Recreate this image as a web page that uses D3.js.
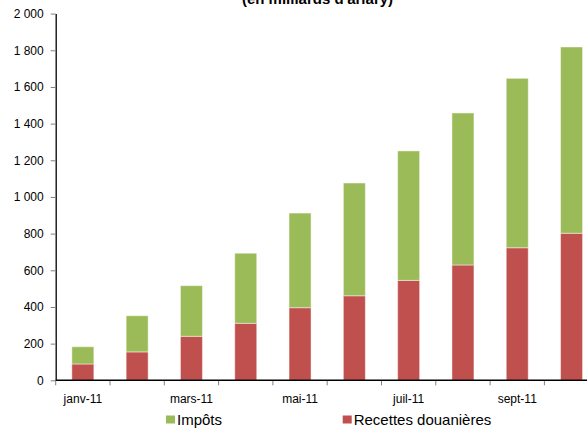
<!DOCTYPE html>
<html>
<head>
<meta charset="utf-8">
<script src="https://cdn.jsdelivr.net/npm/d3@7"></script>
<style>
  body { margin: 0; background: #fff; }
  svg { display: block; font-family: Arial, "Liberation Sans", sans-serif; }
</style>
</head>
<body>
<svg id="chart"></svg>
<script>
// cumulative receipts, billions of ariary
var months = ["janv-11", "févr-11", "mars-11", "avr-11", "mai-11", "juin-11", "juil-11", "août-11", "sept-11", "oct-11"];
var douane = [89, 155, 240, 311, 396, 461, 545, 629, 723, 802];
var impots = [94, 197, 276, 382, 516, 615, 706, 829, 924, 1016];
var yTicks = [0, 200, 400, 600, 800, 1000, 1200, 1400, 1600, 1800, 2000];
var shownMonths = ["janv-11", "mars-11", "mai-11", "juil-11", "sept-11"];

var chartW = 587, chartH = 428;
var plotLeft = 55.7, plotBottom = 380.3, plotTop = 13.6;

var svg = d3.select("#chart").attr("width", chartW).attr("height", chartH);

var fr = d3.formatLocale({decimal: ",", thousands: " ", grouping: [3], currency: ["", ""]});
var fmt = fr.format(",");

var x = d3.scaleBand()
    .domain(months)
    .range([plotLeft, plotLeft + 54.3 * months.length])
    .paddingInner(0.595)
    .paddingOuter(0.2975);

var y = d3.scaleLinear().domain([0, 2000]).range([plotBottom, plotTop]);

var rows = months.map(function (m, i) {
    return {month: m, douane: douane[i], impots: impots[i]};
});
var stacked = d3.stack().keys(["douane", "impots"])(rows);
var colors = {douane: "#C0504D", impots: "#9BBB59"};

svg.append("g").selectAll("g")
    .data(stacked)
    .enter().append("g")
    .attr("fill", function (s) { return colors[s.key]; })
    .selectAll("rect")
    .data(function (s) { return s; })
    .enter().append("rect")
    .attr("x", function (d) { return x(d.data.month); })
    .attr("y", function (d) { return y(d[1]); })
    .attr("width", x.bandwidth())
    .attr("height", function (d) { return y(d[0]) - y(d[1]); })
    .attr("stroke", "rgba(255,255,255,0.45)")
    .attr("stroke-width", 1);

// y axis
var yAxis = svg.append("g")
    .attr("transform", "translate(" + plotLeft + ",0)")
    .call(d3.axisLeft(y).tickValues(yTicks).tickFormat(fmt).tickSize(5).tickPadding(7).tickSizeOuter(0));
yAxis.select(".domain").attr("stroke", "#000").attr("stroke-width", 1.3);
yAxis.selectAll(".tick line").attr("stroke", "#808080");
yAxis.selectAll("text").attr("font-size", 12).attr("fill", "#000").attr("font-family", "Arial, 'Liberation Sans', sans-serif");

// x axis labels
var xAxis = svg.append("g")
    .attr("transform", "translate(0," + plotBottom + ")")
    .call(d3.axisBottom(x).tickValues(shownMonths).tickSize(0).tickPadding(14.5).tickSizeOuter(0));
xAxis.select(".domain").remove();
xAxis.selectAll("text").attr("font-size", 12).attr("fill", "#000").attr("font-family", "Arial, 'Liberation Sans', sans-serif");

// x tick marks between months
var gap = (x.step() - x.bandwidth()) / 2;
var bounds = months.map(function (m) { return x(m) - gap; });
svg.append("g").selectAll("line")
    .data(bounds)
    .enter().append("line")
    .attr("x1", function (d) { return d; })
    .attr("x2", function (d) { return d; })
    .attr("y1", plotBottom)
    .attr("y2", plotBottom + 5)
    .attr("stroke", "#808080");

svg.append("line")
    .attr("x1", plotLeft)
    .attr("x2", chartW)
    .attr("y1", plotBottom)
    .attr("y2", plotBottom)
    .attr("stroke", "#000")
    .attr("stroke-width", 1.5);

// title (top line is cut off in the original)
svg.append("text")
    .attr("x", 317.5)
    .attr("y", 4)
    .attr("text-anchor", "middle")
    .attr("font-size", 15)
    .attr("font-weight", "bold")
    .text("(en milliards d'ariary)");

// legend
var legend = [
    {label: "Impôts", key: "impots", x: 166},
    {label: "Recettes douanières", key: "douane", x: 342.7}
];
var lg = svg.append("g").selectAll("g")
    .data(legend)
    .enter().append("g")
    .attr("transform", function (d) { return "translate(" + d.x + ",0)"; });
lg.append("rect")
    .attr("y", 415.5)
    .attr("width", 9)
    .attr("height", 8)
    .attr("fill", function (d) { return colors[d.key]; });
lg.append("text")
    .attr("x", 11)
    .attr("y", 425)
    .attr("font-size", 15)
    .attr("fill", "#000")
    .text(function (d) { return d.label; });
</script>
</body>
</html>
